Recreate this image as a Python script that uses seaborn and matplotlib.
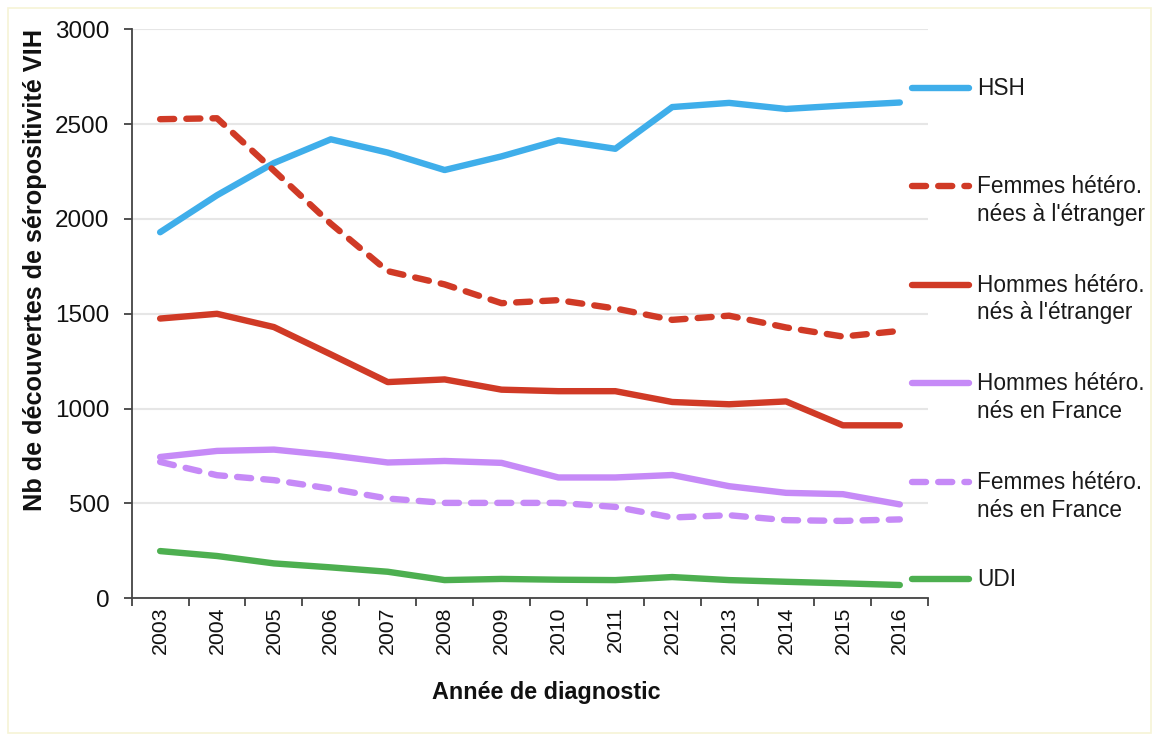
import pandas as pd
import matplotlib.pyplot as plt
import seaborn as sns
from matplotlib.patches import Rectangle

# Découvertes de séropositivité VIH par mode de contamination, 2003-2016
years = list(range(2003, 2017))

hsh = [1930, 2125, 2295, 2420, 2350, 2258, 2330, 2415, 2370, 2590, 2612, 2580, 2598, 2614]
femmes_etranger = [2526, 2531, 2255, 1975, 1725, 1655, 1556, 1572, 1528, 1468, 1490, 1428, 1380, 1410]
hommes_etranger = [1475, 1500, 1430, 1286, 1140, 1154, 1100, 1092, 1092, 1035, 1023, 1038, 912, 912]
hommes_france = [745, 777, 784, 754, 716, 724, 714, 637, 637, 650, 591, 556, 549, 495]
femmes_france = [719, 649, 623, 578, 526, 503, 503, 503, 482, 426, 438, 412, 408, 416]
udi = [249, 223, 184, 163, 140, 96, 102, 98, 96, 112, 96, 87, 79, 70]

labels = ["HSH",
          "Femmes hétéro.\nnées à l'étranger",
          "Hommes hétéro.\nnés à l'étranger",
          "Hommes hétéro.\nnés en France",
          "Femmes hétéro.\nnés en France",
          "UDI"]
series = [hsh, femmes_etranger, hommes_etranger, hommes_france, femmes_france, udi]
colors = ["#3FAEEA", "#D03A26", "#D03A26", "#C68AF7", "#C68AF7", "#4DAF50"]
dashed = [False, True, False, False, True, False]

LW = 4.6
DASH = (2.2, 1.9)

sns.set_style("white")
plt.rcParams["font.family"] = ["Liberation Sans", "DejaVu Sans"]

fig = plt.figure(figsize=(11.56, 7.38), dpi=100)
ax = fig.add_axes([0.1139, 0.1893, 0.6891, 0.7710])

for vals, col, dsh in zip(series, colors, dashed):
    df = pd.DataFrame({"annee": years, "n": vals})
    sns.lineplot(data=df, x="annee", y="n", color=col, linewidth=LW, ax=ax,
                 solid_capstyle="round")
    if dsh:
        ax.lines[-1].set_dashes(DASH)
        ax.lines[-1].set_dash_capstyle("round")

ax.set_xlim(2002.5, 2016.5)
ax.set_ylim(0, 3000)
ax.set_yticks(range(0, 3001, 500))
ax.set_xticks(years)
ax.set_xticklabels([str(y) for y in years], rotation=90, fontsize=15.3, color="#111111")
ax.set_xticks([y + 0.5 for y in range(2002, 2017)], minor=True)
ax.tick_params(axis="x", which="major", length=0, pad=6)
ax.tick_params(axis="x", which="minor", length=6, width=1.2, color="#333333", bottom=True)
ax.tick_params(axis="y", length=6, width=1.2, color="#333333", labelsize=17.5,
               labelcolor="#111111", pad=10, left=True)

ax.grid(axis="y", color="#E6E6E6", linewidth=1.5)
ax.set_axisbelow(True)
for s in ["top", "right"]:
    ax.spines[s].set_visible(False)
for s in ["left", "bottom"]:
    ax.spines[s].set_color("#444444")
    ax.spines[s].set_linewidth(1.3)

ax.set_xlabel("Année de diagnostic", fontsize=16.8, fontweight="bold", color="#111111")
ax.xaxis.set_label_coords(0.52, -0.145)
ax.set_ylabel("Nb de découvertes de séropositivité VIH", fontsize=18.2,
              fontweight="bold", color="#111111")
ax.yaxis.set_label_coords(-0.106, 0.577)

# legend drawn at the right, one entry per series
leg_y = [0.8975, 0.7243, 0.551, 0.3779, 0.2046, 0.0344]
for lab, col, dsh, yy in zip(labels, colors, dashed, leg_y):
    ln, = ax.plot([0.98, 1.051], [yy, yy], transform=ax.transAxes, clip_on=False,
                  color=col, linewidth=LW, solid_capstyle="round")
    if dsh:
        ln.set_dashes(DASH)
        ln.set_dash_capstyle("round")
    ax.text(1.061, yy + 0.019, lab, transform=ax.transAxes, fontsize=16.3,
            va="top", ha="left", linespacing=1.25, color="#1a1a1a")

# faint page frame
fig.patches.append(Rectangle((8 / 1156, 5 / 738), 1143 / 1156, 725 / 738,
                             transform=fig.transFigure, fill=False,
                             edgecolor="#F6F3D6", linewidth=1.2))

fig.savefig("out.png", dpi=100)
